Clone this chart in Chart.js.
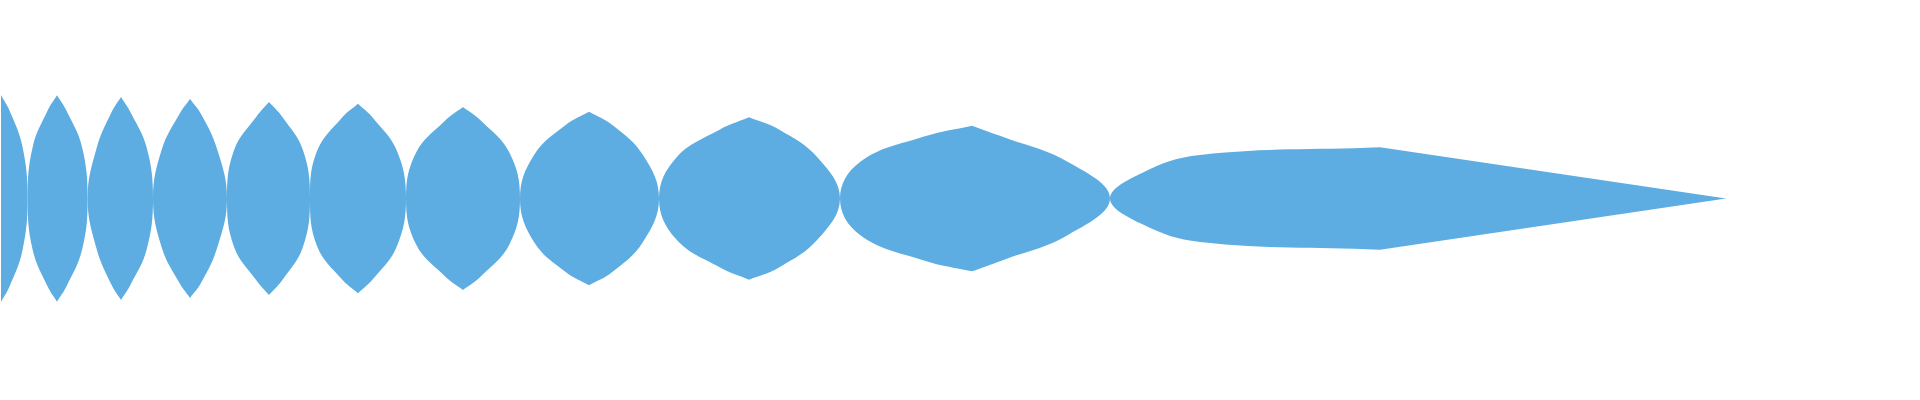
<!DOCTYPE html>
<html>
<head>
<meta charset="utf-8">
<title>Envelope</title>
<script src="https://cdn.jsdelivr.net/npm/chart.js@4.4.1/dist/chart.umd.min.js"></script>
<style>
  html, body { margin: 0; padding: 0; background: #ffffff; }
  #wrap { position: relative; width: 1920px; height: 400px; }
</style>
</head>
<body>
<div id="wrap"><canvas id="envChart"></canvas></div>
<script>
'use strict';

/* lobe peaks: position and half-height (axis units = px of the original plot) */
const peakX   = [1, 57, 121, 190, 269, 358, 463, 589, 749, 972, 1380];
const peakAmp = [103.5, 103.2, 101.5, 99.5, 96.5, 94.8, 91.5, 86.8, 81.2, 72.8, 51.2];

/* zero crossings between neighbouring lobes, and where the tail closes */
const crossX = [27.6, 87.6, 153, 227, 310, 406, 520, 659, 840, 1110];
const tailEndX = 1726;

/* lobe sides: x where each side passes 85 % and 50 % of the peak height */
const UPPER = 0.85, HALF = 0.5;
const leftUpperX  = [null, 47.5, 111.5, 179.5, 256.5, 341.7, 445, 566, 720, 924, 1200];
const leftHalfX   = [null, 32.7, 96.7, 162, 234, 317, 416, 534, 676, 860, 1142];
const rightUpperX = [9.5, 66.5, 130.5, 201, 282, 373, 481, 612, 779, 1002, null];
const rightHalfX  = [22.5, 82, 146.7, 217, 303, 397, 509.5, 643, 818, 1068, null];

const FILL = '#5DADE2';

/* one closed "D" per half lobe, walked top to bottom: peak, side, crossing, side, peak below */
function halfLobe(px, amp, ux, hx, cx) {
    return [
        { x: px, y: amp },
        { x: ux, y: amp * UPPER },
        { x: hx, y: amp * HALF },
        { x: cx, y: 0 },
        { x: hx, y: -amp * HALF },
        { x: ux, y: -amp * UPPER },
        { x: px, y: -amp },
        { x: px, y: null },     // break: every half lobe is its own shape
    ];
}

const lobePoints = [];
peakX.forEach((px, i) => {
    if (leftHalfX[i] !== null) {
        lobePoints.push(...halfLobe(px, peakAmp[i], leftUpperX[i], leftHalfX[i], crossX[i - 1]));
    }
    if (rightHalfX[i] !== null) {
        lobePoints.push(...halfLobe(px, peakAmp[i], rightUpperX[i], rightHalfX[i], crossX[i]));
    }
});

const last = peakX.length - 1;
const tailPoints = [
    { x: peakX[last], y: peakAmp[last] },
    { x: tailEndX, y: 0 },
    { x: peakX[last], y: -peakAmp[last] },
];

const ctx = document.getElementById('envChart').getContext('2d');
new Chart(ctx, {
    type: 'line',
    data: {
        datasets: [
            {
                label: 'lobes',
                data: lobePoints,
                backgroundColor: FILL,
                borderColor: FILL,
                borderWidth: 0,
                pointRadius: 0,
                tension: 0.4,
                spanGaps: false,
                fill: 'shape',
            },
            {
                label: 'tail',
                data: tailPoints,
                backgroundColor: FILL,
                borderColor: FILL,
                borderWidth: 0,
                pointRadius: 0,
                tension: 0,
                fill: 'shape',
            },
        ],
    },
    options: {
        responsive: true,
        maintainAspectRatio: false,
        animation: false,
        layout: { padding: 0 },
        plugins: {
            legend: { display: false },
            tooltip: { enabled: false },
        },
        scales: {
            x: { type: 'linear', display: false, min: 0, max: 1920 },
            y: { display: false, min: -201.5, max: 198.5 },
        },
    },
});
</script>
</body>
</html>
